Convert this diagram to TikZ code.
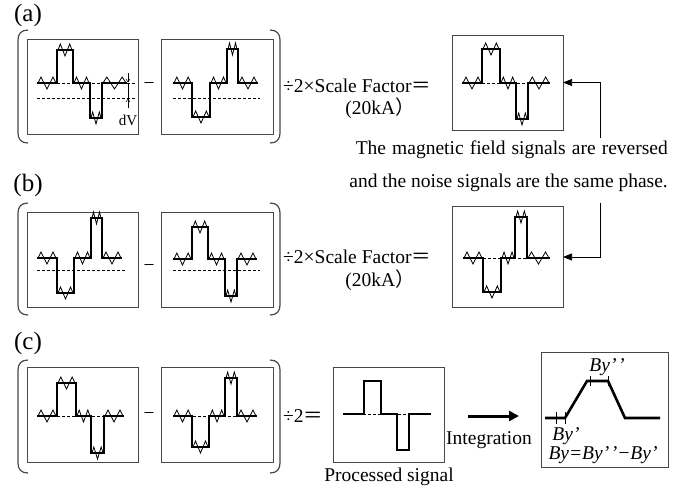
\documentclass[tikz,border=0pt]{standalone}
\usepackage{fontspec}
\setmainfont{Liberation Serif}
\newfontfamily\cjk{Noto Sans CJK SC}
\usetikzlibrary{arrows.meta}
\colorlet{boxgray}{black!72}
\tikzset{
 sbox/.style={draw=boxgray, line width=1pt, minimum width=111pt, minimum height=95pt, inner sep=0pt, outer sep=0pt},
 sigl/.style={line width=1.8pt, line join=miter},
 noisel/.style={line width=0.8pt},
 refl/.style={dash pattern=on 3pt off 2pt, line width=0.6pt},
 paren/.style={line width=1.2pt, draw=boxgray},
 txt/.style={font=\fontsize{19.5}{22}\selectfont, inner sep=0pt},
 lbl/.style={font=\fontsize{25}{28}\selectfont, inner sep=0pt},
 itl/.style={font=\fontsize{19.5}{22}\selectfont\itshape, inner sep=0pt},
}
\newcommand\nz[3]{\pgfmathsetmacro\nzw{(#2-#1-2)/6}%
 \draw[noisel] (#1+1,#3) -- ++(\nzw,-6) -- ++(\nzw,6) -- ++(\nzw,6) -- ++(\nzw,-6) -- ++(\nzw,-6) -- ++(\nzw,6);}
\newcommand\sig[9]{%
 \draw[sigl] (#1,#7)--(#2,#7)--(#2,#8)--(#3,#8)--(#3,#7)--(#4,#7)--(#4,#9)--(#5,#9)--(#5,#7)--(#6,#7);
 \nz{#1}{#2}{#7}\nz{#2}{#3}{#8}\nz{#3}{#4}{#7}\nz{#4}{#5}{#9}\nz{#5}{#6}{#7}}
\newcommand\lpar[3]{\draw[paren] (#1+10,#2) .. controls (#1+3,#2) and (#1,#2+4) .. (#1,#2+10) -- (#1,#3-10) .. controls (#1,#3-4) and (#1+3,#3) .. (#1+10,#3);}
\newcommand\rpar[3]{\draw[paren] (#1-10,#2) .. controls (#1-3,#2) and (#1,#2+4) .. (#1,#2+10) -- (#1,#3-10) .. controls (#1,#3-4) and (#1-3,#3) .. (#1-10,#3);}
\newcommand\pp{’\kern1.5pt’}
\begin{document}
\begin{tikzpicture}[x=1pt,y=-1pt]
\useasboundingbox (0,0) rectangle (687,491);
% ---------- (a)
\node[lbl] (la) at (28,15) {(a)};
\lpar{18}{30}{143}\rpar{280}{30}{143}
\node[sbox] (a1) at (82.5,86.5) {};
\node[sbox, minimum width=112pt] (a2) at (217,86.5) {};
\node[sbox] (a3) at (507.5,82.5) {};
\sig{37}{57}{73}{90}{102}{127}{83}{50}{118}
\draw[refl] (37,83)--(135,83) (37,98)--(135,98);
\draw[line width=0.5pt] (128,83)--(128,98);
\draw[line width=0.5pt,-{Straight Barb[length=3pt,width=4pt]}] (128,73)--(128,82.5);
\draw[line width=0.5pt,-{Straight Barb[length=3pt,width=4pt]}] (128,108)--(128,98.5);
\node[font=\fontsize{15}{17}\selectfont, inner sep=0pt] (dv) at (128,120) {dV};
\node[txt] (ma) at (149,86) {−};
\sig{173}{192}{210}{227}{238}{258}{83}{117}{49}
\draw[refl] (173,98)--(260,98);
\node[txt, anchor=west] (fa) at (283,86) {÷2×Scale Factor{\cjk ＝}};
\node[txt] (ka) at (380,108) {(20kA{\cjk ）}};
\sig{462}{482}{500}{516}{528}{550}{83}{49}{119}
\draw[refl] (462,83)--(550,83);
% note
\node[txt, anchor=east] (t1) at (668,150) {\makebox[312pt][s]{The magnetic field signals are reversed}};
\node[txt, anchor=east] (t2) at (668,183) {and the noise signals are the same phase.};
\coordinate (na) at (600,138);
\coordinate (nb) at (600,203);
\draw[line width=0.7pt, -{Triangle[length=9pt,width=7pt]}] (na) |- (a3.east);
% ---------- (b)
\node[lbl] (lb) at (28,185) {(b)};
\lpar{18}{203}{315}\rpar{280}{203}{315}
\node[sbox] (b1) at (82.5,259.5) {};
\node[sbox, minimum width=112pt] (b2) at (217,259.5) {};
\node[sbox, minimum height=101pt] (b3) at (507.5,257) {};
\sig{37}{57}{74}{91}{102}{122}{258}{293}{218}
\draw[refl] (37,270)--(125,270);
\node[txt] (mb) at (149,268) {−};
\sig{173}{192}{208}{225}{237}{257}{259}{227}{296}
\draw[refl] (173,270)--(260,270);
\node[txt, anchor=west] (fb) at (283,257) {÷2×Scale Factor{\cjk ＝}};
\node[txt] (kb) at (380,280) {(20kA{\cjk ）}};
\sig{463}{483}{501}{515}{527}{550}{258}{292}{217}
\draw[refl] (463,258)--(550,258);
\draw[line width=0.7pt, -{Triangle[length=9pt,width=7pt]}] (nb) |- (b3.east);
% ---------- (c)
\node[lbl] (lc) at (28,343) {(c)};
\lpar{18}{360}{473}\rpar{280}{360}{473}
\node[sbox] (c1) at (82.5,415) {};
\node[sbox, minimum width=112pt] (c2) at (217,415) {};
\node[sbox] (c3) at (388.5,415) {};
\node[sbox, minimum width=127pt, minimum height=115pt] (c4) at (604.5,409.5) {};
\sig{37}{57}{76}{91}{104}{124}{416}{383}{453}
\draw[refl] (37,416)--(124,416);
\node[txt] (mc) at (149,416) {−};
\sig{173}{192}{209}{225}{237}{257}{416}{447}{378}
\draw[refl] (173,416)--(257,416);
\node[txt, anchor=west] (fc) at (283,416) {÷2{\cjk ＝}};
\draw[refl] (343,414)--(431,414);
\draw[sigl] (343,414)--(364,414)--(364,381)--(381,381)--(381,414)--(397,414)--(397,450)--(409,450)--(409,414)--(431,414);
\node[txt] (ps) at (389,477) {Processed signal};
\coordinate (ia) at (468,416);
\coordinate (ib) at (519,416);
\draw[line width=3pt, -{Triangle[length=10pt,width=10pt]}] (ia) -- (ib);
\node[txt] (ig) at (489,440) {Integration};
\draw[line width=2.6pt, line join=miter] (545,418)--(565,418)--(587,381)--(608,381)--(625,418)--(660,418);
\draw[line width=0.6pt] (556,412)--(556,424) (565,412)--(565,424) (590,376)--(590,386) (608,376)--(608,386);
\node[itl] (by2) at (607,367) {By\pp};
\node[itl] (by1) at (566,436) {By’};
\node[itl] (byd) at (603,455) {By=By\pp−By’};
\end{tikzpicture}
\end{document}
